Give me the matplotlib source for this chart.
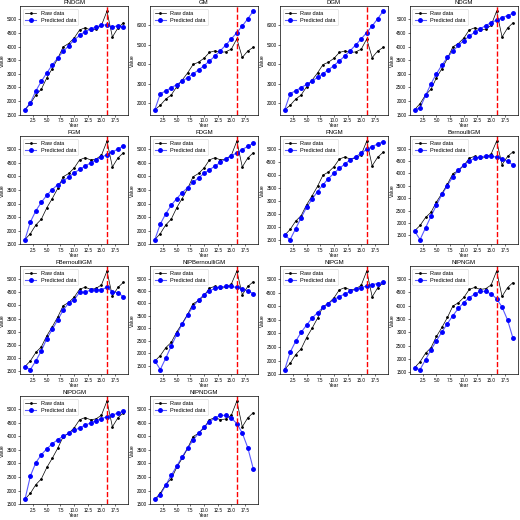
import numpy as np
from matplotlib import pyplot as plt
from matplotlib.ticker import MultipleLocator

years = list(range(1, 20))
raw = [1680, 1900, 2220, 2430, 2850, 3190, 3560, 3990, 4110, 4310,
       4610, 4690, 4610, 4640, 4780, 5300, 4350, 4680, 4870]

model_names = ["FNDGM", "GM", "DGM", "NDGM",
               "FGM", "FDGM", "FNGM", "BernoulliGM",
               "FBernoulliGM", "NIPBernoulliGM", "NIPGM", "NIPNGM",
               "NIPDGM", "NIPNDGM"]

fndgm = [1680, 1930, 2370, 2720, 3030, 3320, 3580, 3820, 4030, 4240,
         4410, 4550, 4640, 4720, 4780, 4800, 4710, 4770, 4700]
gm = [1680, 2490, 2640, 2800, 2960, 3140, 3320, 3510, 3710, 3930,
      4170, 4420, 4700, 4990, 5300, 5620, 5960, 6330, 6720]
dgm = [1680, 2500, 2650, 2810, 2970, 3150, 3330, 3520, 3720, 3940,
       4180, 4430, 4710, 5000, 5310, 5630, 5970, 6340, 6730]
ndgm = [1680, 1740, 2200, 2630, 3000, 3320, 3600, 3830, 4040, 4220,
        4380, 4530, 4650, 4770, 4880, 4970, 5060, 5140, 5220]
fgm = [1680, 2330, 2740, 3050, 3310, 3520, 3700, 3840, 3980, 4130,
       4260, 4380, 4500, 4610, 4710, 4800, 4900, 5010, 5120]
fdgm = [1680, 2250, 2630, 2940, 3190, 3400, 3590, 3780, 3950, 4110,
        4250, 4380, 4520, 4650, 4760, 4870, 4990, 5110, 5220]
fngm = [1670, 1510, 1930, 2350, 2750, 3060, 3360, 3620, 3860, 4060,
        4250, 4420, 4580, 4700, 4840, 4980, 5090, 5190, 5280]
bernoulli = [1670, 1330, 1800, 2270, 2720, 3150, 3510, 3860, 4130, 4340,
             4500, 4610, 4660, 4700, 4700, 4650, 4570, 4480, 4340]
fbernoulli = [1680, 1570, 1900, 2280, 2740, 3090, 3450, 3820, 4090, 4210,
              4500, 4500, 4580, 4600, 4590, 4690, 4510, 4480, 4330]
nipbernoulli = [1690, 1340, 1800, 2280, 2750, 3170, 3540, 3870, 4140, 4350,
                4510, 4600, 4670, 4680, 4680, 4640, 4580, 4510, 4390]
nipgm = [1670, 2310, 2710, 3040, 3310, 3560, 3770, 3960, 4100, 4250,
         4360, 4460, 4550, 4630, 4690, 4750, 4800, 4840, 4880]
nipngm = [1660, 1610, 1980, 2350, 2690, 3020, 3330, 3630, 3900, 4120,
          4300, 4440, 4540, 4540, 4440, 4270, 3950, 3470, 2780]
nipdgm = [1670, 2540, 3030, 3320, 3540, 3720, 3880, 4000, 4110, 4220,
          4310, 4410, 4490, 4580, 4650, 4720, 4780, 4860, 4920]
nipndgm = [1670, 1840, 2200, 2560, 2900, 3240, 3560, 3850, 4120, 4340,
           4530, 4680, 4770, 4770, 4670, 4470, 4120, 3580, 2810]

predictions = [fndgm, gm, dgm, ndgm, fgm, fdgm, fngm, bernoulli,
               fbernoulli, nipbernoulli, nipgm, nipngm, nipdgm, nipndgm]

split_year = 16

plt.rcParams["font.family"] = ["Liberation Sans", "DejaVu Sans"]

fig, axes = plt.subplots(4, 4, figsize=(5.2, 5.2), dpi=100)
fig.subplots_adjust(left=0.0385, right=0.996, top=0.988, bottom=0.03,
                    wspace=0.2, hspace=0.2)

for i, ax in enumerate(axes.flat):
    if i >= len(model_names):
        ax.axis("off")
        continue
    ax.plot(years, raw, ".-", color="black", linewidth=0.5, markersize=2,
            label="Raw data")
    ax.plot(years, predictions[i], "o-", color=(0, 0, 1, 0.65),
            markerfacecolor="blue", markeredgecolor="blue",
            linewidth=0.8, markersize=2.5, label="Predicted data")
    ax.axvline(x=split_year, color="#ff0000", linestyle="--", linewidth=1.0)
    ax.set_title(model_names[i], fontsize=4.3, pad=1.5)
    ax.set_xlabel("Year", fontsize=3.6, labelpad=0.5)
    ax.set_ylabel("Value", fontsize=3.6, labelpad=1)
    ax.xaxis.set_major_locator(MultipleLocator(2.5))
    ax.tick_params(labelsize=3.3, length=1.5, width=0.4, pad=0.8)
    for s in ax.spines.values():
        s.set_linewidth(0.5)
    ax.legend(loc="upper left", fontsize=4, frameon=True,
              handlelength=2, borderpad=0.4, labelspacing=0.3,
              fancybox=True).get_frame().set_linewidth(0.4)

plt.savefig("out.png", dpi=100)
